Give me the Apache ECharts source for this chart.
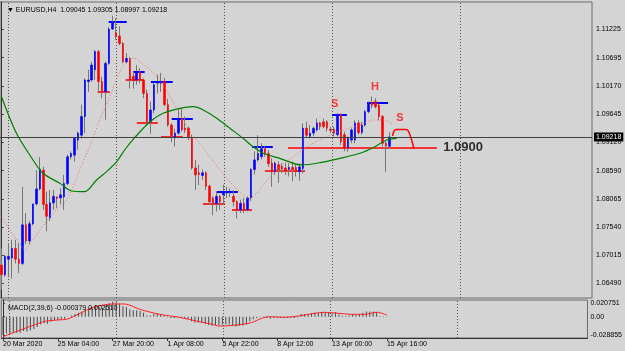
<!DOCTYPE html>
<html>
<head>
<meta charset="utf-8">
<script src="https://cdn.jsdelivr.net/npm/echarts@6/dist/echarts.min.js"></script>
<style>
  html, body { margin: 0; padding: 0; background: #d4d4d4; }
  #chart { width: 625px; height: 351px; }
</style>
</head>
<body>
<div id="chart"></div>
<script>
// EURUSD H4 candles
var opens = [
  1.0683, 1.0665, 1.0694, 1.0696, 1.0714, 1.0694, 1.0686, 1.0758, 1.0728, 1.0760,
  1.0797, 1.0825, 1.0860, 1.0796, 1.0771, 1.0799, 1.0810, 1.0808, 1.0810, 1.0835,
  1.0885, 1.0888, 1.0916, 1.0925, 1.0960, 1.1025, 1.1028, 1.1047, 1.1081, 1.1025,
  1.1006, 1.1059, 1.1123, 1.1116, 1.1110, 1.1096, 1.1062, 1.1068, 1.1035, 1.1028,
  1.1044, 1.1028, 1.1003, 1.0950, 1.0972, 1.1022, 1.1022, 1.1025, 1.0982, 1.0944,
  1.0920, 1.0929, 1.0956, 1.0938, 1.0938, 1.0919, 1.0864, 1.0855, 1.0850, 1.0855,
  1.0830, 1.0808, 1.0798, 1.0811, 1.0814, 1.0817, 1.0818, 1.0811, 1.0801, 1.0786,
  1.0798, 1.0786, 1.0808, 1.0861, 1.0879, 1.0885, 1.0900, 1.0891, 1.0873, 1.0857,
  1.0870, 1.0867, 1.0864, 1.0861, 1.0865, 1.0865, 1.0857, 1.0863, 1.0938, 1.0923,
  1.0929, 1.0935, 1.0948, 1.0950, 1.0950, 1.0936, 1.0936, 1.0926, 1.0963, 1.0926,
  1.0901, 1.0916, 1.0916, 1.0948, 1.0930, 1.0944, 1.0969, 1.0986, 1.0988, 1.0981,
  1.0960, 1.0910, 1.09045
]
var closes = [
  1.0665, 1.0699, 1.0699, 1.0714, 1.0694, 1.0686, 1.0758, 1.0728, 1.0760, 1.0797,
  1.0825, 1.0862, 1.0796, 1.0774, 1.0799, 1.0811, 1.0807, 1.0814, 1.0835, 1.0885,
  1.0891, 1.0919, 1.0929, 1.0960, 1.1028, 1.1028, 1.1056, 1.1081, 1.1025, 1.1006,
  1.1059, 1.1123, 1.1136, 1.1110, 1.1096, 1.1062, 1.1068, 1.1028, 1.1027, 1.1044,
  1.1028, 1.1003, 1.0950, 1.0972, 1.1019, 1.1025, 1.1026, 1.0982, 1.0944, 1.0924,
  1.0929, 1.0956, 1.0935, 1.0935, 1.0922, 1.0864, 1.0851, 1.0852, 1.0855, 1.0830,
  1.0801, 1.0798, 1.0811, 1.0801, 1.0820, 1.0820, 1.0821, 1.0801, 1.0786, 1.0798,
  1.0786, 1.0808, 1.0861, 1.0879, 1.0891, 1.0900, 1.0891, 1.0872, 1.0857, 1.0873,
  1.0861, 1.0862, 1.0859, 1.0865, 1.0861, 1.0857, 1.0866, 1.0938, 1.0925, 1.0929,
  1.0938, 1.0948, 1.0941, 1.0941, 1.0938, 1.0934, 1.0929, 1.0963, 1.0913, 1.0901,
  1.0919, 1.0935, 1.0948, 1.0930, 1.0944, 1.0969, 1.0985, 1.0981, 1.0978, 1.0960,
  1.0910, 1.0905, 1.09218
]
var lows = [
  1.0637, 1.0661, 1.0660, 1.0658, 1.0686, 1.0668, 1.0683, 1.0722, 1.0722, 1.0757,
  1.0794, 1.0822, 1.0786, 1.0746, 1.0765, 1.0786, 1.0789, 1.0796, 1.0786, 1.0832,
  1.0880, 1.0876, 1.0898, 1.0919, 1.0929, 1.1006, 1.1025, 1.1028, 1.1006, 1.0994,
  1.0954, 1.1056, 1.1121, 1.1103, 1.1093, 1.1059, 1.1059, 1.1012, 1.1012, 1.1019,
  1.1022, 1.0994, 1.0944, 1.0928, 1.0966, 1.1003, 1.1006, 1.0979, 1.0941, 1.0912,
  1.0904, 1.0926, 1.0932, 1.0929, 1.0916, 1.0861, 1.0823, 1.0832, 1.0842, 1.0823,
  1.0795, 1.0776, 1.0783, 1.0786, 1.0795, 1.0808, 1.0810, 1.0792, 1.0770, 1.0780,
  1.0780, 1.0783, 1.0802, 1.0852, 1.0876, 1.0880, 1.0885, 1.0866, 1.0829, 1.0851,
  1.0836, 1.0855, 1.0851, 1.0848, 1.0839, 1.0848, 1.0840, 1.0854, 1.0921, 1.0919,
  1.0923, 1.0932, 1.0935, 1.0938, 1.0932, 1.0929, 1.0923, 1.0923, 1.0907, 1.0895,
  1.0894, 1.0910, 1.0910, 1.0926, 1.0926, 1.0941, 1.0966, 1.0975, 1.0975, 1.0953,
  1.0904, 1.0857, 1.08997
]
var highs = [
  1.0714, 1.0702, 1.0724, 1.0730, 1.0730, 1.0724, 1.0829, 1.0780, 1.0765, 1.0797,
  1.0860, 1.0884, 1.0866, 1.0820, 1.0823, 1.0823, 1.0811, 1.0826, 1.0851, 1.0889,
  1.0895, 1.0922, 1.0932, 1.0982, 1.1031, 1.1047, 1.1062, 1.1084, 1.1084, 1.1034,
  1.1062, 1.1127, 1.1148, 1.1143, 1.1128, 1.1099, 1.1078, 1.1071, 1.1044, 1.1056,
  1.1050, 1.1031, 1.1010, 1.0988, 1.1022, 1.1038, 1.1041, 1.1032, 1.0993, 1.0947,
  1.0937, 1.0975, 1.0975, 1.0960, 1.0941, 1.0926, 1.0879, 1.0870, 1.0861, 1.0858,
  1.0833, 1.0811, 1.0820, 1.0814, 1.0833, 1.0829, 1.0826, 1.0823, 1.0804, 1.0805,
  1.0808, 1.0811, 1.0864, 1.0895, 1.0925, 1.0910, 1.0904, 1.0897, 1.0882, 1.0876,
  1.0876, 1.0873, 1.0873, 1.0873, 1.0876, 1.0870, 1.0873, 1.0947, 1.0950, 1.0944,
  1.0941, 1.0956, 1.0950, 1.0956, 1.0953, 1.0941, 1.0941, 1.0966, 1.0966, 1.0932,
  1.0923, 1.0938, 1.0953, 1.0953, 1.0950, 1.0972, 1.0988, 1.0997, 1.0994, 1.0984,
  1.0963, 1.0916, 1.09305
]

// moving averages, sampled along the drawn lines (bar index, price)
var greenIdx = [0, 4.25, 9.05, 11.9, 16.8, 20.1, 24, 27.4, 30.3, 33.2, 35.5, 38.4, 42.8, 46.6, 51.4, 55.3,
  58.2, 62.1, 65.9, 69.7, 72.6, 75.5, 80.3, 86.6, 91.9, 97.7, 103.5, 107.8, 111.2, 114.1]
var greenVal = [1.09957, 1.09286, 1.08789, 1.08541, 1.08354, 1.08211, 1.08198, 1.08416, 1.08571, 1.08757,
  1.08975, 1.09204, 1.09503, 1.09659, 1.09752, 1.09782, 1.09721, 1.09566, 1.09380, 1.09193, 1.09037,
  1.08914, 1.08820, 1.08696, 1.08738, 1.08820, 1.08914, 1.09037, 1.09162, 1.09193]
var redIdx = [0, 2.3, 5.2, 6.6, 9, 13.9, 18.7, 22.5, 25.4, 28.3, 31.2, 34.1, 36.5, 38.4, 39.9, 42.8, 45.7,
  48.6, 51.4, 54.3, 57.2, 60.1, 63, 65.9, 68.8, 71.2, 73.6, 76, 77.5, 80.3, 84.2, 89, 93.8, 98.6, 103.5,
  107.3, 110.2, 113.1]
var redVal = [1.07732, 1.07484, 1.07236, 1.07111, 1.07298, 1.07732, 1.08043, 1.08602, 1.09037, 1.09534,
  1.09969, 1.10435, 1.10653, 1.10684, 1.10621, 1.10466, 1.10280, 1.09969, 1.09659, 1.09316, 1.09100,
  1.08850, 1.08602, 1.08384, 1.08198, 1.08075, 1.08168, 1.08354, 1.08477, 1.08664, 1.08850, 1.09068,
  1.09223, 1.09348, 1.09441, 1.09534, 1.09534, 1.09441]

// MACD(2,39,6): main as histogram per bar, signal sampled
var macdHist = [
  -0.028, -0.026, -0.026, -0.025, -0.025, -0.025, -0.022, -0.023, -0.021, -0.019,
  -0.016, -0.012, -0.010, -0.011, -0.008, -0.006, -0.005, -0.004, -0.003, 0.000,
  0.002, 0.004, 0.006, 0.008, 0.012, 0.013, 0.015, 0.018, 0.015, 0.014,
  0.017, 0.021, 0.023, 0.022, 0.020, 0.016, 0.015, 0.011, 0.010, 0.010,
  0.009, 0.006, 0.002, 0.002, 0.004, 0.004, 0.004, 0.002, -0.001, -0.002,
  -0.002, -0.001, -0.002, -0.002, -0.003, -0.007, -0.009, -0.009, -0.009, -0.011,
  -0.013, -0.014, -0.013, -0.013, -0.012, -0.012, -0.012, -0.013, -0.015, -0.014,
  -0.014, -0.012, -0.007, -0.004, -0.002, -0.001, -0.001, -0.002, -0.003, -0.002,
  -0.002, -0.002, -0.002, -0.002, -0.002, -0.002, -0.001, 0.004, 0.004, 0.004,
  0.005, 0.006, 0.006, 0.007, 0.007, 0.006, 0.005, 0.007, 0.003, 0.001,
  0.001, 0.002, 0.004, 0.003, 0.004, 0.006, 0.008, 0.008, 0.008, 0.006,
  0.001, -0.001, -0.000379
]
var signalIdx = [0, 11.9, 15.9, 18.8, 22.5, 26.3, 29.2, 32.1, 35.5, 39.9, 45.7, 51.4, 57.2, 61.1, 63,
  71.7, 77.5, 82.3, 86.1, 90.9, 93.8, 97.7, 101.5, 105.4, 109.2, 112]
var signalVal = [-0.0310, -0.0077, -0.0051, -0.0036, 0.0053, 0.0146, 0.0181, 0.0197, 0.0197, 0.0115,
  0.0037, -0.0009, -0.0077, -0.0118, -0.0145, -0.0102, 0.0, -0.0009, 0.0011, 0.0053, 0.0068, 0.0053,
  0.0037, 0.0037, 0.0068, 0.00251]

// axis ticks and labels
var timeLabels = ['20 Mar 2020', '25 Mar 04:00', '27 Mar 20:00', '1 Apr 08:00', '5 Apr 22:00',
  '8 Apr 12:00', '13 Apr 00:00', '15 Apr 16:00']
var timeBars = [0, 16, 32, 48, 64, 80, 96, 112]
var gridBars = [1.8, 33, 64.2, 95.4, 132.4]
var priceTicks = [1.06490, 1.07015, 1.07540, 1.08065, 1.08590, 1.09120, 1.09645, 1.10170, 1.10695, 1.11225]
var macdTicks = [0.020751, 0, -0.028855]
var macdTickLabels = ['0.020751', '0.00', '-0.028855']
var lastPrice = 1.09218

// drawn objects: [fromBar, toBar, price]
var blueLevels = [[30.9, 36.1, 1.11367], [37.9, 41.3, 1.10435], [43.1, 49.4, 1.10248], [49.1, 55.2, 1.09566],
  [62.1, 68.2, 1.08198], [72.3, 78.3, 1.09037], [95.4, 99.7, 1.09641], [105.5, 111.6, 1.09857]]
var redLevels = [[27.7, 31.2, 1.10062], [35.8, 40.8, 1.10280], [39, 45.1, 1.09492], [46, 52.3, 1.09223],
  [58.1, 64.5, 1.07982], [66.5, 72.3, 1.07857], [76, 87.6, 1.08589], [82.7, 125.7, 1.0902]]
var patternText = ['S', 'H', 'S']
var patternIdx = [96.2, 107.8, 115]
var patternPrice = [1.0983, 1.1015, 1.0957]
var arcIdx = [112.9, 113.3, 114.0, 116.8, 117.6, 119.1]
var arcPrice = [1.09236, 1.09329, 1.09357, 1.09357, 1.09311, 1.08994]
var levelText = '1.0900'
var levelIdx = 127.5
var levelPrice = 1.0903

var slots = 171
var font = 'Liberation Sans'

var chart = echarts.init(document.getElementById('chart'))

var cats = []
for (var s = 0; s < slots; s++) cats.push(s)

var candles = opens.map(function (o, i) { return [o, closes[i], lows[i], highs[i]] })
var bodies = opens.map(function (o, i) {
  return [o, closes[i], Math.min(o, closes[i]), Math.max(o, closes[i])]
})
function pairs (xs, ys) { return xs.map(function (x, i) { return [x, ys[i]] }) }

var levelLines = []
blueLevels.forEach(function (l) {
  levelLines.push([{ coord: [l[0], l[2]], lineStyle: { color: '#0000ff', width: 2, type: 'solid' } }, { coord: [l[1], l[2]] }])
})
redLevels.forEach(function (l) {
  levelLines.push([{ coord: [l[0], l[2]], lineStyle: { color: '#ff0000', width: 1.6, type: 'solid' } }, { coord: [l[1], l[2]] }])
})
var vLines = gridBars.map(function (b) {
  return { xAxis: b, lineStyle: { color: '#505050', width: 1, type: [1, 2] } }
})

var option = {
  animation: false,
  backgroundColor: '#d4d4d4',
  title: [
    { text: '\u25BC EURUSD,H4  1.09045 1.09305 1.08997 1.09218', left: 2, top: 2,
      textStyle: { fontSize: 7, fontWeight: 'normal', color: '#000', fontFamily: font } },
    { text: 'MACD(2,39,6) -0.000379 0.002510', left: 3, top: 300,
      textStyle: { fontSize: 7, fontWeight: 'normal', color: '#000', fontFamily: font } }
  ],
  grid: [
    { left: 0, top: 2, width: 592, height: 296, show: true, borderColor: '#6a6a6a', borderWidth: 1 },
    { left: 0, top: 300, width: 592, height: 38, show: true, borderColor: '#6a6a6a', borderWidth: 1 }
  ],
  xAxis: [
    { type: 'category', gridIndex: 0, data: cats, show: false },
    { type: 'value', gridIndex: 0, min: -0.5, max: slots - 0.5, show: false },
    { type: 'category', gridIndex: 1, data: cats, show: false, position: 'top' },
    { type: 'value', gridIndex: 1, min: -0.5, max: slots - 0.5, position: 'bottom',
      axisLine: { show: true, onZero: false, lineStyle: { color: '#333' } },
      splitLine: { show: false },
      axisTick: { show: true, length: 3, customValues: timeBars, lineStyle: { color: '#333' } },
      axisLabel: { customValues: timeBars, align: 'left', margin: 3, fontSize: 7, color: '#000', fontFamily: font,
        formatter: function (v) { return timeLabels[timeBars.indexOf(Math.round(v))] || '' } } }
  ],
  yAxis: [
    { type: 'value', gridIndex: 0, position: 'right', min: 1.06216, max: 1.11734, scale: true,
      axisLine: { show: true, lineStyle: { color: '#333' } },
      splitLine: { show: false },
      axisTick: { show: true, length: 2, customValues: priceTicks, lineStyle: { color: '#333' } },
      axisLabel: { customValues: priceTicks, margin: 4, fontSize: 7, color: '#000', fontFamily: font,
        formatter: function (v) { return v.toFixed(5) } } },
    { type: 'value', gridIndex: 1, position: 'right', min: -0.03299, max: 0.02587,
      axisLine: { show: true, lineStyle: { color: '#333' } },
      splitLine: { show: false },
      axisTick: { show: true, length: 2, customValues: macdTicks, lineStyle: { color: '#333' } },
      axisLabel: { customValues: macdTicks, margin: 3, fontSize: 7, color: '#000', fontFamily: font,
        formatter: function (v) {
          var k = macdTicks.findIndex(function (t) { return Math.abs(t - v) < 1e-7 })
          return k >= 0 ? macdTickLabels[k] : ''
        } } }
  ],
  series: [
    // wicks
    { type: 'candlestick', xAxisIndex: 0, yAxisIndex: 0, data: candles, barWidth: 1,
      itemStyle: { color: '#767676', color0: '#767676', borderColor: '#767676', borderColor0: '#767676', borderWidth: 1 } },
    // bodies
    { type: 'candlestick', xAxisIndex: 0, yAxisIndex: 0, data: bodies, barWidth: 2,
      itemStyle: { color: '#0000ff', color0: '#ff0000', borderColor: '#0000ff', borderColor0: '#ff0000', borderWidth: 0.6 } },
    { type: 'line', xAxisIndex: 1, yAxisIndex: 0, data: pairs(greenIdx, greenVal), smooth: 0.3, showSymbol: false,
      lineStyle: { color: '#008000', width: 1.2 }, z: 3,
      markLine: { silent: true, symbol: 'none', precision: 5, label: { show: false }, data: vLines.concat(levelLines), z: 1 } },
    { type: 'line', xAxisIndex: 1, yAxisIndex: 0, data: pairs(redIdx, redVal), smooth: 0.3, showSymbol: false,
      lineStyle: { color: '#f06a6a', width: 1, type: [1, 2] }, z: 3,
      markLine: { silent: true, symbol: 'none', precision: 5, data: [{ yAxis: lastPrice,
        lineStyle: { color: '#404040', width: 1, type: 'solid' },
        label: { show: true, position: 'end', distance: 2, formatter: lastPrice.toFixed(5),
          backgroundColor: '#000', color: '#fff', fontSize: 7, fontFamily: font, padding: [1, 2] } }] } },
    { type: 'line', xAxisIndex: 1, yAxisIndex: 0, data: pairs(arcIdx, arcPrice), smooth: 0.4, showSymbol: false,
      lineStyle: { color: '#ff0000', width: 1.5 }, z: 4 },
    { type: 'scatter', xAxisIndex: 1, yAxisIndex: 0, symbolSize: 0, z: 5,
      data: patternText.map(function (t, i) { return { name: t, value: [patternIdx[i], patternPrice[i]] } }),
      label: { show: true, position: 'inside', formatter: '{b}', color: '#ff1010', fontSize: 11, fontWeight: 'bold', fontFamily: font } },
    { type: 'scatter', xAxisIndex: 1, yAxisIndex: 0, symbolSize: 0, z: 5,
      data: [{ name: levelText, value: [levelIdx, levelPrice] }],
      label: { show: true, position: 'right', distance: 0, formatter: '{b}', color: '#000', fontSize: 13, fontWeight: 'bold', fontFamily: font } },
    // MACD panel
    { type: 'bar', xAxisIndex: 2, yAxisIndex: 1, data: macdHist, barWidth: 1, itemStyle: { color: '#4a4a4a' } },
    { type: 'line', xAxisIndex: 3, yAxisIndex: 1, data: pairs(signalIdx, signalVal), smooth: 0.3, showSymbol: false,
      lineStyle: { color: '#ff2020', width: 1 },
      markLine: { silent: true, symbol: 'none', precision: 5, label: { show: false }, data: vLines } }
  ]
}
chart.setOption(option)
</script>
</body>
</html>
